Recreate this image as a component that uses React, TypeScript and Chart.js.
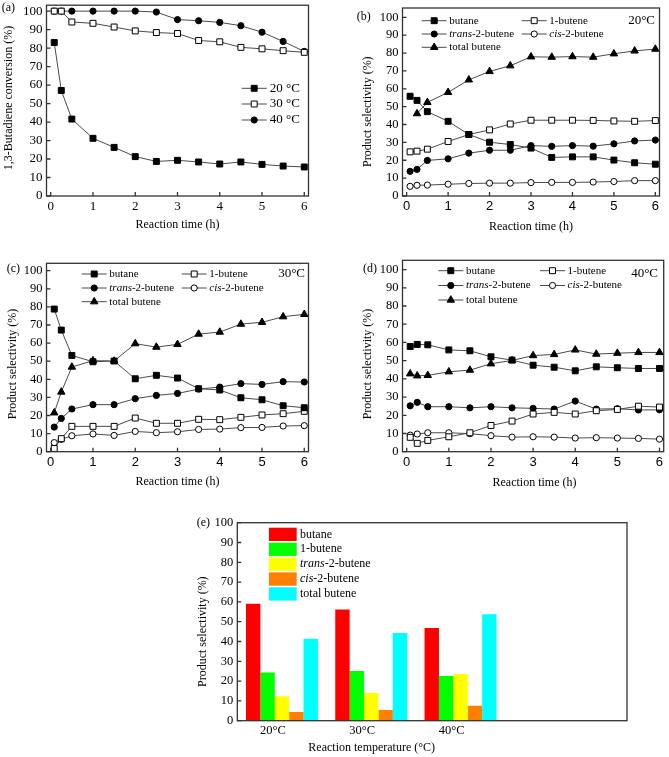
import React, { useEffect, useRef } from 'react';
import { Chart, registerables } from 'chart.js';

Chart.register(...registerables);

const SERIF = '"Liberation Serif", "Times New Roman", Times, serif';
const SANS = '"Liberation Sans", Arial, Helvetica, sans-serif';

// ---------------- data ----------------
const timeH = [0.083, 0.25, 0.5, 1, 1.5, 2, 2.5, 3, 3.5, 4, 4.5, 5, 5.5, 6];
const xTickValues = [0, 1, 2, 3, 4, 5, 6];
const yTickValues = [0, 10, 20, 30, 40, 50, 60, 70, 80, 90, 100];

// (a) 1,3-butadiene conversion (%)
const conv20C = [83, 57.1, 41.6, 31.2, 26.3, 21.3, 18.7, 19.3, 18.4, 17.3, 18.4, 17.1, 16.2, 15.7];
const conv30C = [100, 100, 94.1, 93.4, 91.4, 89.3, 88.4, 87.9, 84.1, 83.4, 80.4, 79.6, 78.6, 77.7];
const conv40C = [100, 100, 100, 100, 100, 100, 99.5, 95.4, 94.8, 93.9, 92.1, 88.6, 83.6, 78.2];

// (b) selectivity at 20 °C
const sel20Butane = [55.8, 53.5, 47.2, 41.8, 34.4, 30.1, 28.8, 26.8, 21.6, 21.9, 21.9, 20.1, 18.6, 17.8];
const sel20OneButene = [24.7, 25.1, 26.2, 30.5, 34.4, 37.0, 40.3, 42.4, 42.4, 42.4, 42.3, 42.0, 41.8, 42.2];
const sel20Trans = [13.8, 14.9, 19.9, 20.8, 24.0, 25.6, 25.6, 28.2, 27.8, 28.2, 27.9, 29.2, 30.8, 31.3];
const sel20Cis = [5.4, 6.0, 6.1, 6.6, 7.0, 7.2, 7.2, 7.5, 7.6, 7.6, 7.8, 8.1, 8.6, 8.6];
const sel20Total = [null, 46.1, 52.4, 58.0, 65.0, 69.7, 72.9, 77.9, 77.7, 78.0, 77.7, 79.6, 81.2, 82.2];

// (c) selectivity at 30 °C
const sel30Butane = [78.8, 67.2, 53.2, 49.7, 50.1, 40.3, 42.2, 40.7, 34.8, 34.1, 29.8, 28.7, 25.4, 24.3];
const sel30OneButene = [1.8, 7.2, 14.0, 14.0, 14.0, 18.6, 15.7, 15.7, 17.9, 17.7, 19.0, 20.3, 21.0, 22.3];
const sel30Trans = [13.6, 18.4, 23.6, 26.0, 26.0, 29.3, 31.1, 32.2, 34.6, 35.7, 37.6, 37.2, 38.7, 38.5];
const sel30Cis = [5.0, 6.8, 8.8, 9.8, 9.0, 11.2, 10.5, 11.0, 12.3, 12.5, 13.3, 13.4, 14.2, 14.4];
const sel30Total = [21.5, 33.0, 46.8, 50.3, 50.1, 59.7, 57.8, 59.3, 65.0, 66.1, 70.5, 71.5, 74.6, 75.9];

// (d) selectivity at 40 °C
const sel40Butane = [57.8, 58.9, 58.7, 55.9, 55.4, 52.1, 50.3, 47.5, 46.4, 44.4, 46.6, 46.1, 45.7, 45.7];
const sel40OneButene = [7.9, 4.6, 6.2, 8.2, 10.4, 14.4, 16.8, 20.7, 21.6, 20.7, 22.5, 23.2, 25.0, 24.5];
const sel40Trans = [25.2, 27.1, 24.7, 24.7, 24.1, 24.7, 24.1, 23.8, 23.4, 27.8, 23.4, 23.6, 22.9, 23.0];
const sel40Cis = [9.1, 9.7, 10.4, 10.4, 9.9, 8.8, 8.0, 8.2, 8.0, 7.5, 7.7, 7.5, 7.3, 6.9];
const sel40Total = [42.8, 41.7, 41.9, 43.9, 44.8, 48.3, 50.1, 52.8, 53.4, 55.9, 53.6, 54.1, 54.5, 54.5];

// (e) selectivity vs reaction temperature
const tempLabels = ['20°C', '30°C', '40°C'];
const barButane = [59.1, 56.1, 46.8];
const barOneButene = [24.4, 25.1, 22.6];
const barTrans = [12.3, 14.0, 23.6];
const barCis = [4.4, 5.4, 7.6];
const barTotal = [41.4, 44.3, 53.7];

const convNames = ['20 °C', '30 °C', '40 °C'];
const productNames = ['butane', '1-butene', 'trans-2-butene', 'cis-2-butene', 'total butene'];

// ---------------- styles ----------------
const LINE_COLOR = '#4a4a4a';
const FRAME_COLOR = '#333333';
const FRAME_W = 1.3;
const TICK_LEN = 4;
const BAR_COLORS = ['#FF0000', '#00FF00', '#FFFF00', '#FF8000', '#00FFFF'];

type Marker = 'rect' | 'circle' | 'triangle';
type SeriesStyle = { marker: Marker; open: boolean };
const convStyles: SeriesStyle[] = [
  { marker: 'rect', open: false },
  { marker: 'rect', open: true },
  { marker: 'circle', open: false },
];
const productStyles: SeriesStyle[] = [
  { marker: 'rect', open: false },
  { marker: 'rect', open: true },
  { marker: 'circle', open: false },
  { marker: 'circle', open: true },
  { marker: 'triangle', open: false },
];
const markerRadius: Record<Marker, number> = { rect: 4.2, circle: 3.1, triangle: 4.3 };

type Geo = { cl: number; ct: number; cw: number; ch: number; L: number; R: number; T: number; B: number; xh: number };
const GEO_A: Geo = { cl: 0, ct: 0, cw: 330, ch: 250, L: 46.5, R: 308.5, T: 3.3, B: 196, xh: 40 };
const GEO_B: Geo = { cl: 330, ct: 0, cw: 339, ch: 250, L: 402.5, R: 659.5, T: 8, B: 196, xh: 40 };
const GEO_C: Geo = { cl: 0, ct: 255, cw: 330, ch: 250, L: 46.5, R: 308.5, T: 263.3, B: 451.7, xh: 40 };
const GEO_D: Geo = { cl: 330, ct: 255, cw: 339, ch: 250, L: 402.5, R: 666.5, T: 260, B: 451.7, xh: 40 };
const GEO_E: Geo = { cl: 150, ct: 500, cw: 519, ch: 257, L: 237.3, R: 627, T: 522.7, B: 720.7, xh: 36.3 };

function layoutPadding(g: Geo) {
  return { left: 0, top: g.T - g.ct, right: g.cl + g.cw - g.R, bottom: g.ct + g.ch - g.B - g.xh };
}

// ---------------- drawing helpers ----------------
type Part = { t: string; it?: boolean };
function richName(name: string): Part[] {
  const m = name.match(/^(trans|cis)(-.*)$/);
  return m ? [{ t: m[1], it: true }, { t: m[2] }] : [{ t: name }];
}

function drawParts(ctx: CanvasRenderingContext2D, parts: Part[], x: number, y: number, size: number, family: string, align: string) {
  const fonts = parts.map((p) => `${p.it ? 'italic ' : ''}${size}px ${family}`);
  const widths = parts.map((p, i) => {
    ctx.font = fonts[i];
    return ctx.measureText(p.t).width;
  });
  const total = widths.reduce((a, b) => a + b, 0);
  let sx = align === 'left' ? x : align === 'center' ? x - total / 2 : x - total;
  ctx.textAlign = 'left';
  ctx.textBaseline = 'middle';
  parts.forEach((p, i) => {
    ctx.font = fonts[i];
    ctx.fillText(p.t, sx, y);
    sx += widths[i];
  });
}

function drawMarker(ctx: CanvasRenderingContext2D, style: Marker, x: number, y: number, r: number, fill: string, stroke: string) {
  ctx.beginPath();
  if (style === 'rect') {
    const s = r * Math.SQRT1_2;
    ctx.rect(x - s, y - s, 2 * s, 2 * s);
  } else if (style === 'circle') {
    ctx.arc(x, y, r, 0, Math.PI * 2);
  } else {
    let a = 0;
    ctx.moveTo(x + Math.sin(a) * r, y - Math.cos(a) * r);
    a += (2 * Math.PI) / 3;
    ctx.lineTo(x + Math.sin(a) * r, y - Math.cos(a) * r);
    a += (2 * Math.PI) / 3;
    ctx.lineTo(x + Math.sin(a) * r, y - Math.cos(a) * r);
    ctx.closePath();
  }
  ctx.fillStyle = fill;
  ctx.fill();
  ctx.lineWidth = 1;
  ctx.strokeStyle = stroke;
  ctx.stroke();
}

type TextItem = { parts: Part[]; x: number; y: number; size: number; align: string; rotate?: boolean; family?: string };
type LegendLine = { ds: number; x: number; y: number };
type LegendBox = { ds: number; x: number; y: number };
type Decor = {
  geo: Geo;
  texts: TextItem[];
  xTicks: boolean;
  lines?: { items: LegendLine[]; len: number; gap: number; size: number };
  boxes?: { items: LegendBox[]; w: number; h: number; gap: number; size: number };
};

function makeDecor(d: Decor) {
  const ox = d.geo.cl;
  const oy = d.geo.ct;
  return {
    id: 'decor',
    afterDatasetsDraw(chart: any) {
      const { ctx, chartArea: a } = chart;
      ctx.save();
      ctx.strokeStyle = FRAME_COLOR;
      ctx.lineWidth = FRAME_W;
      ctx.strokeRect(a.left, a.top, a.right - a.left, a.bottom - a.top);
      ctx.beginPath();
      if (d.xTicks) {
        const xs = chart.scales.x;
        for (const t of xs.ticks) {
          const p = xs.getPixelForValue(t.value);
          ctx.moveTo(p, a.bottom);
          ctx.lineTo(p, a.bottom - TICK_LEN);
        }
      }
      const ys = chart.scales.y;
      for (const t of ys.ticks) {
        const p = ys.getPixelForValue(t.value);
        ctx.moveTo(a.left, p);
        ctx.lineTo(a.left + TICK_LEN, p);
      }
      ctx.stroke();
      ctx.restore();
    },
    afterDraw(chart: any) {
      const { ctx } = chart;
      ctx.save();
      ctx.fillStyle = '#000';
      for (const t of d.texts) {
        const fam = t.family || SERIF;
        if (t.rotate) {
          ctx.save();
          ctx.translate(t.x - ox, t.y - oy);
          ctx.rotate(-Math.PI / 2);
          drawParts(ctx, t.parts, 0, 0, t.size, fam, 'center');
          ctx.restore();
        } else {
          drawParts(ctx, t.parts, t.x - ox, t.y - oy, t.size, fam, t.align);
        }
      }
      if (d.lines) {
        const L = d.lines;
        for (const it of L.items) {
          const ds = chart.data.datasets[it.ds];
          const x0 = it.x - ox;
          const y0 = it.y - oy;
          ctx.beginPath();
          ctx.strokeStyle = ds.borderColor;
          ctx.lineWidth = ds.borderWidth;
          ctx.moveTo(x0, y0);
          ctx.lineTo(x0 + L.len, y0);
          ctx.stroke();
          drawMarker(ctx, ds.pointStyle, x0 + L.len / 2, y0, ds.pointRadius, ds.pointBackgroundColor, ds.pointBorderColor);
          ctx.fillStyle = '#000';
          drawParts(ctx, richName(ds.label), x0 + L.len + L.gap, y0, L.size, SERIF, 'left');
        }
      }
      if (d.boxes) {
        const Bx = d.boxes;
        for (const it of Bx.items) {
          const ds = chart.data.datasets[it.ds];
          const x0 = it.x - ox;
          const y0 = it.y - oy;
          ctx.fillStyle = ds.backgroundColor;
          ctx.fillRect(x0, y0, Bx.w, Bx.h);
          ctx.fillStyle = '#000';
          drawParts(ctx, richName(ds.label), x0 + Bx.w + Bx.gap, y0 + Bx.h / 2, Bx.size, SERIF, 'left');
        }
      }
      ctx.restore();
    },
  };
}

// ---------------- chart configs ----------------
function lineDataset(label: string, values: (number | null)[], st: SeriesStyle) {
  const data: { x: number; y: number }[] = [];
  timeH.forEach((t, i) => {
    const v = values[i];
    if (v !== null && v !== undefined) data.push({ x: t, y: v });
  });
  return {
    label,
    data,
    borderColor: LINE_COLOR,
    borderWidth: 1,
    pointStyle: st.marker,
    pointRadius: markerRadius[st.marker],
    pointBackgroundColor: st.open ? '#ffffff' : '#000000',
    pointBorderColor: '#000000',
    pointBorderWidth: 1,
    tension: 0,
    fill: false,
  };
}

function axisCommon(geo: Geo) {
  return {
    grid: { display: false, drawTicks: false },
    border: { display: false },
  };
}

function lineConfig(geo: Geo, ymax: number, datasets: any[], xFont: any, yFont: any, decor: Decor) {
  return {
    type: 'line',
    data: { datasets },
    options: {
      responsive: false,
      animation: false,
      devicePixelRatio: 1,
      events: [],
      layout: { padding: layoutPadding(geo) },
      plugins: { legend: { display: false }, tooltip: { enabled: false } },
      scales: {
        x: {
          type: 'linear',
          min: -0.1,
          max: 6.1,
          ...axisCommon(geo),
          afterBuildTicks: (s: any) => {
            s.ticks = xTickValues.map((v) => ({ value: v }));
          },
          ticks: { font: xFont, color: '#000', padding: 3, maxRotation: 0, autoSkip: false },
          afterFit: (s: any) => {
            s.height = geo.xh;
            s.paddingLeft = 0;
            s.paddingRight = 0;
          },
        },
        y: {
          type: 'linear',
          min: 0,
          max: ymax,
          ...axisCommon(geo),
          afterBuildTicks: (s: any) => {
            s.ticks = yTickValues.map((v) => ({ value: v }));
          },
          ticks: { font: yFont, color: '#000', padding: 4, autoSkip: false },
          afterFit: (s: any) => {
            s.width = geo.L - geo.cl;
            s.paddingTop = 0;
            s.paddingBottom = 0;
          },
        },
      },
    },
    plugins: [makeDecor(decor)],
  };
}

const serifTick = (size: number) => ({ family: SERIF, size });
const sansTick = (size: number) => ({ family: SANS, size });

function selLegend(col1: number, col2: number, rows: number[]): LegendLine[] {
  return [
    { ds: 0, x: col1, y: rows[0] },
    { ds: 1, x: col2, y: rows[0] },
    { ds: 2, x: col1, y: rows[1] },
    { ds: 3, x: col2, y: rows[1] },
    { ds: 4, x: col1, y: rows[2] },
  ];
}

function selDatasets(series: (number | null)[][]) {
  return series.map((vals, i) => lineDataset(productNames[i], vals, productStyles[i]));
}

const makeA = () =>
  lineConfig(
    GEO_A,
    103.2,
    [conv20C, conv30C, conv40C].map((v, i) => lineDataset(convNames[i], v, convStyles[i])),
    serifTick(13),
    serifTick(13),
    {
      geo: GEO_A,
      xTicks: true,
      texts: [
        { parts: [{ t: '(a)' }], x: 1.7, y: 8.3, size: 12, align: 'left' },
        { parts: [{ t: '1,3-Butadiene conversion (%)' }], x: 9, y: 98, size: 12, align: 'center', rotate: true },
        { parts: [{ t: 'Reaction time (h)' }], x: 177.5, y: 225, size: 12, align: 'center' },
      ],
      lines: {
        items: [
          { ds: 0, x: 241.7, y: 88.3 },
          { ds: 1, x: 241.7, y: 104 },
          { ds: 2, x: 241.7, y: 120 },
        ],
        len: 25,
        gap: 3,
        size: 13,
      },
    }
  );

const makeB = () =>
  lineConfig(
    GEO_B,
    105.2,
    selDatasets([sel20Butane, sel20OneButene, sel20Trans, sel20Cis, sel20Total]),
    sansTick(13),
    serifTick(12.5),
    {
      geo: GEO_B,
      xTicks: true,
      texts: [
        { parts: [{ t: '(b)' }], x: 356.7, y: 17.3, size: 12, align: 'left' },
        { parts: [{ t: 'Product selectivity (%)' }], x: 368.3, y: 111.7, size: 12, align: 'center', rotate: true },
        { parts: [{ t: 'Reaction time (h)' }], x: 531, y: 226.7, size: 12, align: 'center' },
        { parts: [{ t: '20°C' }], x: 655, y: 20.7, size: 13, align: 'right' },
      ],
      lines: { items: selLegend(421.7, 521.7, [20.7, 34, 47.3]), len: 25, gap: 2.6, size: 11 },
    }
  );

const makeC = () =>
  lineConfig(
    GEO_C,
    104.1,
    selDatasets([sel30Butane, sel30OneButene, sel30Trans, sel30Cis, sel30Total]),
    sansTick(13),
    serifTick(12.5),
    {
      geo: GEO_C,
      xTicks: true,
      texts: [
        { parts: [{ t: '(c)' }], x: 6.7, y: 269, size: 12, align: 'left' },
        { parts: [{ t: 'Product selectivity (%)' }], x: 12.7, y: 364, size: 12, align: 'center', rotate: true },
        { parts: [{ t: 'Reaction time (h)' }], x: 177.5, y: 481.7, size: 12, align: 'center' },
        { parts: [{ t: '30°C' }], x: 305, y: 274, size: 13, align: 'right' },
      ],
      lines: { items: selLegend(81.7, 181.7, [274, 288, 301.7]), len: 25, gap: 2.6, size: 11 },
    }
  );

const makeD = () =>
  lineConfig(
    GEO_D,
    105.1,
    selDatasets([sel40Butane, sel40OneButene, sel40Trans, sel40Cis, sel40Total]),
    sansTick(13),
    serifTick(12.5),
    {
      geo: GEO_D,
      xTicks: true,
      texts: [
        { parts: [{ t: '(d)' }], x: 363, y: 269.3, size: 12, align: 'left' },
        { parts: [{ t: 'Product selectivity (%)' }], x: 368.3, y: 364, size: 12, align: 'center', rotate: true },
        { parts: [{ t: 'Reaction time (h)' }], x: 534.5, y: 482.7, size: 12, align: 'center' },
        { parts: [{ t: '40°C' }], x: 658, y: 274, size: 13, align: 'right' },
      ],
      lines: { items: selLegend(438.3, 540, [270.7, 285.5, 300]), len: 25, gap: 2.6, size: 11 },
    }
  );

const makeE = () => {
  const geo = GEO_E;
  const series = [barButane, barOneButene, barTrans, barCis, barTotal];
  return {
    type: 'bar',
    data: {
      datasets: series.map((vals, i) => ({
        label: productNames[i],
        data: vals.map((v, j) => ({ x: j + 1, y: v })),
        backgroundColor: BAR_COLORS[i],
        borderWidth: 0,
        categoryPercentage: 0.806,
        barPercentage: 1,
      })),
    },
    options: {
      responsive: false,
      animation: false,
      devicePixelRatio: 1,
      events: [],
      layout: { padding: layoutPadding(geo) },
      plugins: { legend: { display: false }, tooltip: { enabled: false } },
      scales: {
        x: {
          type: 'linear',
          offset: false,
          min: 0.5,
          max: 4.864,
          grid: { display: false, drawTicks: false, offset: false },
          border: { display: false },
          afterBuildTicks: (s: any) => {
            s.ticks = tempLabels.map((_, i) => ({ value: i + 1 }));
          },
          ticks: {
            font: serifTick(12.5),
            color: '#000',
            padding: 3,
            labelOffset: -9,
            maxRotation: 0,
            autoSkip: false,
            callback: (v: any) => tempLabels[Math.round(Number(v)) - 1] ?? '',
          },
          afterFit: (s: any) => {
            s.height = geo.xh;
            s.paddingLeft = 0;
            s.paddingRight = 0;
          },
        },
        y: {
          type: 'linear',
          min: 0,
          max: 100,
          grid: { display: false, drawTicks: false },
          border: { display: false },
          afterBuildTicks: (s: any) => {
            s.ticks = yTickValues.map((v) => ({ value: v }));
          },
          ticks: { font: serifTick(12.5), color: '#000', padding: 4, autoSkip: false },
          afterFit: (s: any) => {
            s.width = geo.L - geo.cl;
            s.paddingTop = 0;
            s.paddingBottom = 0;
          },
        },
      },
    },
    plugins: [
      makeDecor({
        geo,
        xTicks: false,
        texts: [
          { parts: [{ t: '(e)' }], x: 196.7, y: 522.7, size: 12, align: 'left' },
          { parts: [{ t: 'Product selectivity (%)' }], x: 203.3, y: 631.7, size: 12, align: 'center', rotate: true },
          { parts: [{ t: 'Reaction temperature (°C)' }], x: 371.7, y: 748.3, size: 12, align: 'center' },
        ],
        boxes: {
          items: [0, 1, 2, 3, 4].map((i) => ({ ds: i, x: 269, y: 527.7 + i * 14.9 })),
          w: 27.7,
          h: 13.3,
          gap: 3.3,
          size: 12,
        },
      }),
    ],
  };
};

// ---------------- components ----------------
function Panel({ geo, make }: { geo: Geo; make: () => any }) {
  const ref = useRef<HTMLCanvasElement>(null);
  useEffect(() => {
    const chart = new Chart(ref.current as HTMLCanvasElement, make());
    return () => chart.destroy();
  }, []);
  return (
    <canvas
      ref={ref}
      width={geo.cw}
      height={geo.ch}
      style={{ position: 'absolute', left: geo.cl, top: geo.ct, width: geo.cw, height: geo.ch, display: 'block' }}
    />
  );
}

export default function App() {
  Chart.defaults.font.family = SERIF;
  Chart.defaults.color = '#000';
  return (
    <div style={{ position: 'fixed', left: 0, top: 0, width: 669, height: 757, background: '#fff', overflow: 'hidden' }}>
      <Panel geo={GEO_A} make={makeA} />
      <Panel geo={GEO_B} make={makeB} />
      <Panel geo={GEO_C} make={makeC} />
      <Panel geo={GEO_D} make={makeD} />
      <Panel geo={GEO_E} make={makeE} />
    </div>
  );
}
